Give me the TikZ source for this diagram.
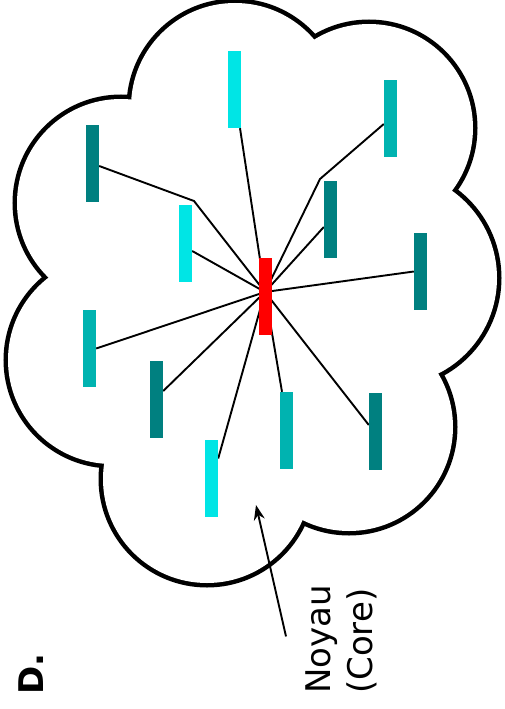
\documentclass[tikz,border=0pt]{standalone}
\usepackage{fontspec}
\setmainfont{DejaVu Sans}
\usepackage{tikz}
\usetikzlibrary{arrows.meta,backgrounds}

\definecolor{brightcyan}{RGB}{0,229,229}
\definecolor{midteal}{RGB}{0,179,176}
\definecolor{darkteal}{RGB}{0,128,128}

\tikzset{
  rod/.style={minimum width=13pt, minimum height=77pt, inner sep=0pt},
  link/.style={line width=1.9pt}
}

\begin{document}
\begin{tikzpicture}[x=1pt, y=-1pt, >={Stealth[length=15pt,width=11pt]}]
        \useasboundingbox (0,0) rectangle (504,709);

        % Cloud (union of bumps)
        \begin{scope}[on background layer]
          \foreach \cx/\cy/\r in {235/107/104, 369/128/104, 390/278/107, 349/427/104, 207/479/104, 112/360/104, 121/203/104}
            \draw[line width=9pt] (\cx,\cy) circle[radius=\r];
          \foreach \cx/\cy/\r in {235/107/104, 369/128/104, 390/278/107, 349/427/104, 207/479/104, 112/360/104, 121/203/104}
            \fill[white] (\cx,\cy) circle[radius=\r];
          \fill[white] (235,107) -- (369,128) -- (390,278) -- (349,427) -- (207,479) -- (112,360) -- (121,203) -- cycle;
        \end{scope}

        % Core
        \node[rod, fill=red] (C) at (265.5,296.5) {};
        \coordinate (H) at (265,292);

        % Elements
        \node[rod, fill=brightcyan] (N1) at (234.5,89.5) {};
        \node[rod, fill=midteal] (N2) at (390.5,118.5) {};
        \node[rod, fill=darkteal] (N3) at (92.5,163.5) {};
        \node[rod, fill=brightcyan] (N4) at (185.5,243.5) {};
        \node[rod, fill=darkteal] (N5) at (330.5,219.5) {};
        \node[rod, fill=darkteal] (N6) at (420.5,271.5) {};
        \node[rod, fill=midteal] (N7) at (89.5,348.5) {};
        \node[rod, fill=darkteal] (N8) at (156.5,399.5) {};
        \node[rod, fill=brightcyan] (N9) at (211.5,478.5) {};
        \node[rod, fill=midteal] (N10) at (286.5,430.5) {};
        \node[rod, fill=darkteal] (N11) at (375.5,431.5) {};

        \coordinate (K1) at (194,201);
        \coordinate (K2) at (320,179);

        % Links to the core
        \begin{scope}[on background layer]
          \draw[link] (H) -- ([xshift=5.5pt]N1.south);
          \draw[link] (H) -- (K2) -- ([yshift=-5.5pt]N2.west);
          \draw[link] (H) -- (K1) -- ([yshift=-2.5pt]N3.east);
          \draw[link] (H) -- ([yshift=-7.5pt]N4.east);
          \draw[link] (H) -- ([yshift=-7.5pt]N5.west);
          \draw[link] (H) -- (N6.west);
          \draw[link] (H) -- (N7.east);
          \draw[link] (H) -- ([yshift=8.5pt]N8.east);
          \draw[link] (H) -- ([yshift=20pt]N9.east);
          \draw[link] (H) -- ([xshift=-4.5pt]N10.north);
          \draw[link] (H) -- ([yshift=6.5pt]N11.west);
        \end{scope}

        % Labels
        \node[rotate=90, anchor=north west, align=left, inner sep=0pt, font=\fontsize{34}{42}\selectfont] (L) at (306,694) {Noyau\\(Core)};
        \node[rotate=90, anchor=base west, inner sep=0pt, font=\bfseries\fontsize{34}{40}\selectfont] (D) at (43,695) {D.};

        \coordinate (T) at (256,505);
        \draw[link, ->] ([xshift=-20pt,yshift=3pt]L.north) -- (T);
\end{tikzpicture}
\end{document}
